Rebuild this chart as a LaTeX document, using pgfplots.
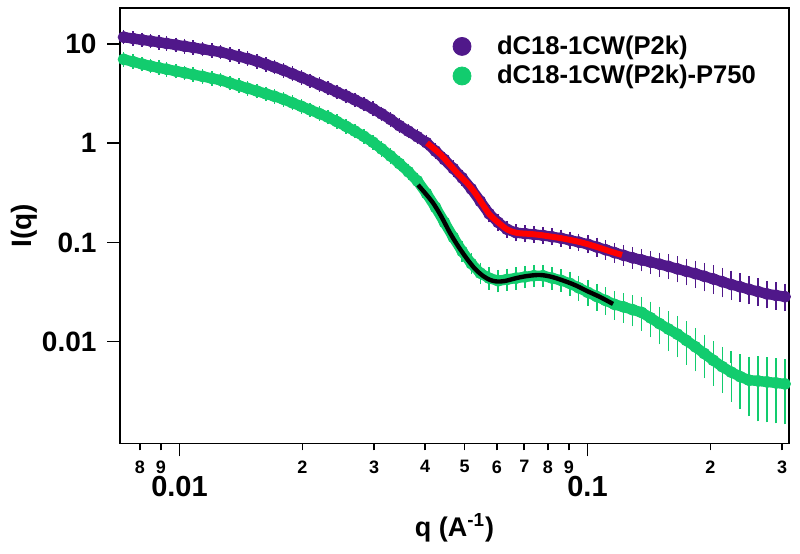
\documentclass[border=0pt]{standalone}
\usepackage{fontspec}
\setmainfont{Liberation Sans}
\usepackage{pgfplots}
\usepackage{pgfplotstable}
\pgfplotsset{compat=1.18}
\definecolor{purp}{RGB}{80,24,138}
\definecolor{grn}{RGB}{18,204,110}

\pgfplotstableread{
q I e
0.0073 11.74 0.03
0.0077 11.36 0.03
0.0081 11.02 0.03
0.0085 10.72 0.03
0.0089 10.43 0.03
0.0093 10.14 0.03
0.0098 9.815 0.03
0.0103 9.502 0.03
0.0108 9.220 0.03
0.0114 8.884 0.03
0.0120 8.580 0.03
0.0126 8.306 0.03
0.0133 7.874 0.03
0.0140 7.482 0.03
0.0147 7.125 0.03
0.0155 6.693 0.03
0.0163 6.243 0.03
0.0171 5.849 0.03
0.0180 5.431 0.03
0.0189 5.019 0.03
0.0199 4.616 0.03
0.0209 4.256 0.03
0.0220 3.906 0.03
0.0231 3.602 0.03
0.0243 3.290 0.03
0.0256 2.999 0.03
0.0269 2.739 0.03
0.0283 2.485 0.03
0.0298 2.227 0.03
0.0313 1.979 0.03
0.0329 1.741 0.03
0.0346 1.504 0.03
0.0364 1.324 0.03
0.0383 1.163 0.03
0.0403 1.014 0.04
0.0424 0.8345 0.04
0.0446 0.6849 0.04
0.0469 0.5559 0.05
0.0493 0.4479 0.05
0.0519 0.3470 0.05
0.0546 0.2602 0.05
0.0574 0.1951 0.06
0.0604 0.1594 0.06
0.0635 0.1358 0.06
0.0668 0.1255 0.06
0.0703 0.1227 0.06
0.0739 0.1204 0.06
0.0778 0.1177 0.06
0.0818 0.1141 0.06
0.0861 0.1105 0.06
0.0905 0.1055 0.06
0.0952 0.1007 0.06
0.1002 0.0959 0.07
0.1054 0.0899 0.08
0.1108 0.0844 0.09
0.1166 0.0789 0.09
0.1226 0.0741 0.10
0.1290 0.0700 0.11
0.1357 0.0666 0.12
0.1427 0.0634 0.13
0.1501 0.0604 0.14
0.1579 0.0574 0.15
0.1661 0.0542 0.16
0.1747 0.0512 0.17
0.1838 0.0485 0.18
0.1933 0.0456 0.19
0.2033 0.0429 0.19
0.2139 0.0402 0.20
0.2250 0.0377 0.20
0.2367 0.0357 0.19
0.2489 0.0337 0.19
0.2618 0.0320 0.18
0.2754 0.0303 0.18
0.2897 0.0293 0.18
0.3047 0.0284 0.18
}\purpledata

\pgfplotstableread{
q I e
0.0073 7.013 0.03
0.0077 6.633 0.03
0.0081 6.287 0.03
0.0085 6.001 0.03
0.0089 5.769 0.03
0.0093 5.572 0.03
0.0098 5.332 0.03
0.0103 5.126 0.03
0.0108 4.927 0.03
0.0114 4.714 0.03
0.0120 4.511 0.03
0.0126 4.326 0.03
0.0133 4.045 0.03
0.0140 3.799 0.03
0.0147 3.576 0.03
0.0155 3.352 0.03
0.0163 3.147 0.03
0.0171 2.970 0.03
0.0180 2.770 0.03
0.0189 2.560 0.03
0.0199 2.355 0.03
0.0209 2.171 0.03
0.0220 1.993 0.03
0.0231 1.837 0.03
0.0243 1.655 0.03
0.0256 1.480 0.03
0.0269 1.327 0.03
0.0283 1.174 0.03
0.0298 1.023 0.03
0.0313 0.876 0.04
0.0329 0.745 0.04
0.0346 0.624 0.04
0.0364 0.516 0.05
0.0383 0.417 0.05
0.0403 0.312 0.05
0.0424 0.2264 0.05
0.0446 0.1594 0.06
0.0469 0.1126 0.08
0.0493 0.0813 0.10
0.0519 0.0613 0.10
0.0546 0.0491 0.11
0.0574 0.0437 0.12
0.0604 0.0411 0.12
0.0635 0.0424 0.12
0.0668 0.0437 0.12
0.0703 0.0450 0.12
0.0739 0.0462 0.12
0.0778 0.0462 0.12
0.0818 0.0438 0.12
0.0861 0.0415 0.12
0.0905 0.0387 0.14
0.0952 0.0349 0.15
0.1002 0.0314 0.16
0.1054 0.0285 0.17
0.1108 0.0260 0.18
0.1166 0.0237 0.19
0.1226 0.0224 0.20
0.1290 0.0210 0.22
0.1357 0.0197 0.25
0.1427 0.0174 0.27
0.1501 0.0152 0.29
0.1579 0.0134 0.31
0.1661 0.0119 0.33
0.1747 0.0103 0.35
0.1838 0.00888 0.35
0.1933 0.00759 0.35
0.2033 0.00649 0.36
0.2139 0.00560 0.38
0.2250 0.00493 0.42
0.2367 0.00444 0.46
0.2489 0.00409 0.50
0.2618 0.00402 0.55
0.2754 0.00393 0.55
0.2897 0.00384 0.55
0.3047 0.00375 0.55
}\greendata

\begin{document}
\begin{tikzpicture}
\begin{axis}[
  set layers,
  scale only axis, width=334.5pt, height=217.75pt,
  xmode=log, ymode=log,
  xmin=0.007148, xmax=0.3118, ymin=0.000941, ymax=23.1,
  axis line style={line width=0.8pt},
  every tick/.style={black, line width=0.8pt},
  tick align=outside, tick pos=left,
  major tick length=3.5pt, minor tick length=3.2pt,
  xtick={0.008,0.009,0.02,0.03,0.04,0.05,0.06,0.07,0.08,0.09,0.2,0.3},
  xticklabels={8,9,2,3,4,5,6,7,8,9,2,3},
  xticklabel style={font=\bfseries\fontsize{9}{9}\selectfont, yshift=-1.5pt},
  extra x ticks={0.01,0.1},
  extra x tick labels={0.01,0.1},
  extra x tick style={major tick length=6.5pt, xticklabel style={font=\bfseries\fontsize{14.5}{14.5}\selectfont, yshift=-5pt}},
  ytick=\empty,
  minor ytick={0.002,0.003,0.004,0.005,0.006,0.007,0.008,0.009,0.02,0.03,0.04,0.05,0.06,0.07,0.08,0.09,0.2,0.3,0.4,0.5,0.6,0.7,0.8,0.9,2,3,4,5,6,7,8,9,20},
  extra y ticks={0.01,0.1,1,10},
  extra y tick labels={0.01,0.1,1,10},
  extra y tick style={major tick length=6.5pt},
  yticklabel style={font=\bfseries\fontsize{14}{14}\selectfont, xshift=-1.8pt},
  xlabel={q (A\textsuperscript{-1})},
  x label style={at={(axis description cs:0.5,-0.2145)}, anchor=base, font=\bfseries\fontsize{13.5}{13.5}\selectfont},
  ylabel={I(q)},
  y label style={at={(axis description cs:-0.1435,0.5)}, anchor=center, font=\bfseries\fontsize{14}{14}\selectfont},
  legend style={draw=none, fill=none, at={(0.4978,0.9365)}, anchor=north west,
    inner sep=0pt, outer sep=0pt,
    font=\bfseries\fontsize{12.8}{12.8}\selectfont, row sep=4pt, column sep=13pt,
    nodes={inner sep=0pt}},
  legend cell align=left,
]
% continuous bands under the markers, from the same data
\addplot[purp, line width=5.2pt, forget plot] table[x=q, y=I] {\purpledata};
\addplot[grn, line width=5.2pt, forget plot] table[x=q, y=I] {\greendata};
\addplot[only marks, mark=*, mark size=2.8pt, color=purp, forget plot,
  error bars/.cd, y dir=both, y explicit relative,
  error bar style={line width=0.7pt, color=purp},
  error mark options={mark size=3pt, line width=0.7pt, color=purp}]
  table[x=q, y=I, y error=e] {\purpledata};
\addplot[only marks, mark=*, mark size=2.8pt, color=grn, forget plot,
  error bars/.cd, y dir=both, y explicit relative,
  error bar style={line width=0.7pt, color=grn},
  error mark options={mark size=3pt, line width=0.7pt, color=grn}]
  table[x=q, y=I, y error=e] {\greendata};
\addplot[red, line width=3pt, smooth, forget plot, on layer=axis foreground] coordinates {
(0.04043,1.007) (0.04350,0.780) (0.04603,0.604) (0.04869,0.468) (0.05067,0.398)
(0.05302,0.3155) (0.05545,0.2388) (0.05768,0.1893) (0.06103,0.1536) (0.06385,0.1337)
(0.06718,0.1247) (0.07231,0.1218) (0.07650,0.1190) (0.08093,0.1149) (0.08562,0.1110)
(0.09319,0.1035) (0.09972,0.0966) (0.1073,0.0880) (0.1148,0.0802) (0.1215,0.0748)};
\addplot[black, line width=2.2pt, smooth, forget plot, on layer=axis foreground] coordinates {
(0.03843,0.380) (0.03997,0.3155) (0.04182,0.2502) (0.04375,0.1850) (0.04603,0.1247)
(0.04815,0.0922) (0.05067,0.0682) (0.05302,0.0541) (0.05545,0.0460) (0.05768,0.0419)
(0.06000,0.0404) (0.06277,0.0409) (0.06718,0.0439) (0.07148,0.0460) (0.07650,0.0470)
(0.08185,0.0449) (0.08910,0.0400) (0.09425,0.0364) (0.09972,0.0324) (0.1073,0.0282)
(0.1155,0.0240)};
\addlegendimage{only marks, mark=*, mark size=4.5pt, color=purp}
\addlegendentry{dC18-1CW(P2k)}
\addlegendimage{only marks, mark=*, mark size=4.5pt, color=grn}
\addlegendentry{dC18-1CW(P2k)-P750}
\coordinate (A) at (rel axis cs:0,0);
\coordinate (B) at (rel axis cs:1,1);
\end{axis}
\pgfresetboundingbox
\useasboundingbox ([shift={(-60pt,-55.25pt)}]A) rectangle ([shift={(5.5pt,4pt)}]B);
\end{tikzpicture}
\end{document}
